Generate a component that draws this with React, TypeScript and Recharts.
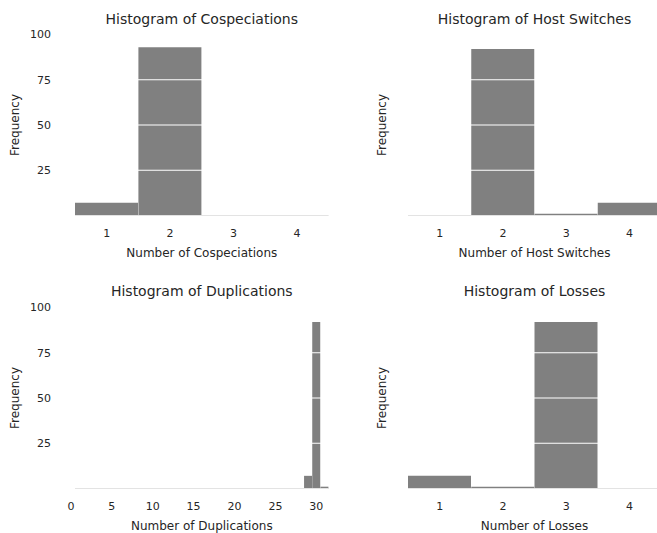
import { BarChart, Bar, XAxis, YAxis, ReferenceLine } from 'recharts'

// histogram bins and counts
const countBins = [1, 2, 3, 4]
const countTicks = [1, 2, 3, 4]
const cospeciations = [7, 93, 0, 0]
const hostSwitches = [0, 92, 1, 7]
const losses = [7, 1, 92, 0]

const duplicationBins = [
  1, 2, 3, 4, 5, 6, 7, 8, 9, 10, 11, 12, 13, 14, 15, 16,
  17, 18, 19, 20, 21, 22, 23, 24, 25, 26, 27, 28, 29, 30, 31,
]
const duplications = [
  0, 0, 0, 0, 0, 0, 0, 0, 0, 0, 0, 0, 0, 0, 0, 0,
  0, 0, 0, 0, 0, 0, 0, 0, 0, 0, 0, 0, 7, 92, 1,
]
const duplicationTicks = [0, 5, 10, 15, 20, 25, 30]

const freqTicks = [25, 50, 75, 100]
const gridLines = [25, 50, 75]

const textColor = '#262626'
const font = 'DejaVu Sans, Verdana, sans-serif'

type PanelProps = {
  title: string
  xLabel: string
  bins: number[]
  counts: number[]
  ticks: number[]
  left: number
  top: number
  width: number
  height: number
  marginTop: number
  marginBottom: number
  marginRight: number
  yWidth: number
  showYTicks: boolean
  labelOffset: number
  titleTop: number
}

function Histogram(p: PanelProps) {
  const data = p.bins.map((bin, i) => ({ bin, count: p.counts[i] }))
  const domain = [p.bins[0] - 0.5, p.bins[p.bins.length - 1] + 0.5]
  const plotLeft = p.yWidth
  const plotRight = p.width - p.marginRight
  const center = (plotLeft + plotRight) / 2

  return (
    <div style={{ position: 'absolute', left: p.left, top: p.top, width: p.width, height: p.height }}>
      <div
        style={{
          position: 'absolute',
          left: center - 160,
          width: 320,
          top: p.titleTop,
          textAlign: 'center',
          fontFamily: font,
          fontSize: '14px',
          lineHeight: '14px',
          color: textColor,
          whiteSpace: 'nowrap',
        }}>
        {p.title}
      </div>
      <BarChart
        width={p.width}
        height={p.height}
        data={data}
        barCategoryGap={0}
        barGap={0}
        margin={{ top: p.marginTop, right: p.marginRight, bottom: p.marginBottom, left: 0 }}
        style={{ fontFamily: font }}>
        {/* bars sit on a hidden band axis, the visible ticks come from a numeric axis */}
        <XAxis xAxisId="bins" dataKey="bin" type="category" orientation="top" hide />
        <XAxis
          xAxisId="num"
          dataKey="bin"
          type="number"
          domain={domain}
          allowDataOverflow
          ticks={p.ticks}
          interval={0}
          axisLine={false}
          tickLine={false}
          tickSize={0}
          tickMargin={14}
          height={45}
          tick={{ fill: textColor, fontSize: 11, fontFamily: font }}
          label={{ value: p.xLabel, position: 'insideBottom', offset: 4, fill: textColor, fontSize: 12, fontFamily: font }}
        />
        <YAxis
          type="number"
          domain={[0, 100]}
          ticks={freqTicks}
          width={p.yWidth}
          axisLine={false}
          tickLine={false}
          tickSize={0}
          tickMargin={24}
          tick={p.showYTicks ? { fill: textColor, fontSize: 11, fontFamily: font } : false}
          label={{
            value: 'Frequency',
            angle: -90,
            position: 'insideLeft',
            offset: p.labelOffset,
            fill: textColor,
            fontSize: 12,
            fontFamily: font,
            textAnchor: 'middle',
            style: { textAnchor: 'middle' },
          }}
        />
        <ReferenceLine xAxisId="bins" y={0} stroke="#e3e3e3" strokeWidth={1} />
        <Bar xAxisId="bins" dataKey="count" fill="#808080" isAnimationActive={false} />
        {gridLines.map((g) => (
          <ReferenceLine key={g} xAxisId="bins" y={g} stroke="#ffffff" strokeWidth={1.2} />
        ))}
      </BarChart>
    </div>
  )
}

export default function App() {
  return (
    <div
      style={{
        position: 'absolute',
        left: 0,
        top: 0,
        width: 657,
        height: 533,
        overflow: 'hidden',
        background: '#ffffff',
      }}>
      <Histogram
        title="Histogram of Cospeciations"
        xLabel="Number of Cospeciations"
        bins={countBins}
        counts={cospeciations}
        ticks={countTicks}
        left={0}
        top={0}
        width={330}
        height={266}
        marginTop={34.5}
        marginBottom={5.5}
        marginRight={1.4}
        yWidth={75}
        showYTicks
        labelOffset={15}
        titleTop={11.7}
      />
      <Histogram
        title="Histogram of Host Switches"
        xLabel="Number of Host Switches"
        bins={countBins}
        counts={hostSwitches}
        ticks={countTicks}
        left={330}
        top={0}
        width={332}
        height={266}
        marginTop={34.5}
        marginBottom={5.5}
        marginRight={1}
        yWidth={78}
        showYTicks={false}
        labelOffset={51.7}
        titleTop={11.7}
      />
      <Histogram
        title="Histogram of Duplications"
        xLabel="Number of Duplications"
        bins={duplicationBins}
        counts={duplications}
        ticks={duplicationTicks}
        left={0}
        top={266}
        width={330}
        height={270}
        marginTop={41.5}
        marginBottom={2.5}
        marginRight={1.4}
        yWidth={75}
        showYTicks
        labelOffset={15}
        titleTop={18}
      />
      <Histogram
        title="Histogram of Losses"
        xLabel="Number of Losses"
        bins={countBins}
        counts={losses}
        ticks={countTicks}
        left={330}
        top={266}
        width={332}
        height={270}
        marginTop={41.5}
        marginBottom={2.5}
        marginRight={1}
        yWidth={78}
        showYTicks={false}
        labelOffset={51.7}
        titleTop={18}
      />
    </div>
  )
}
